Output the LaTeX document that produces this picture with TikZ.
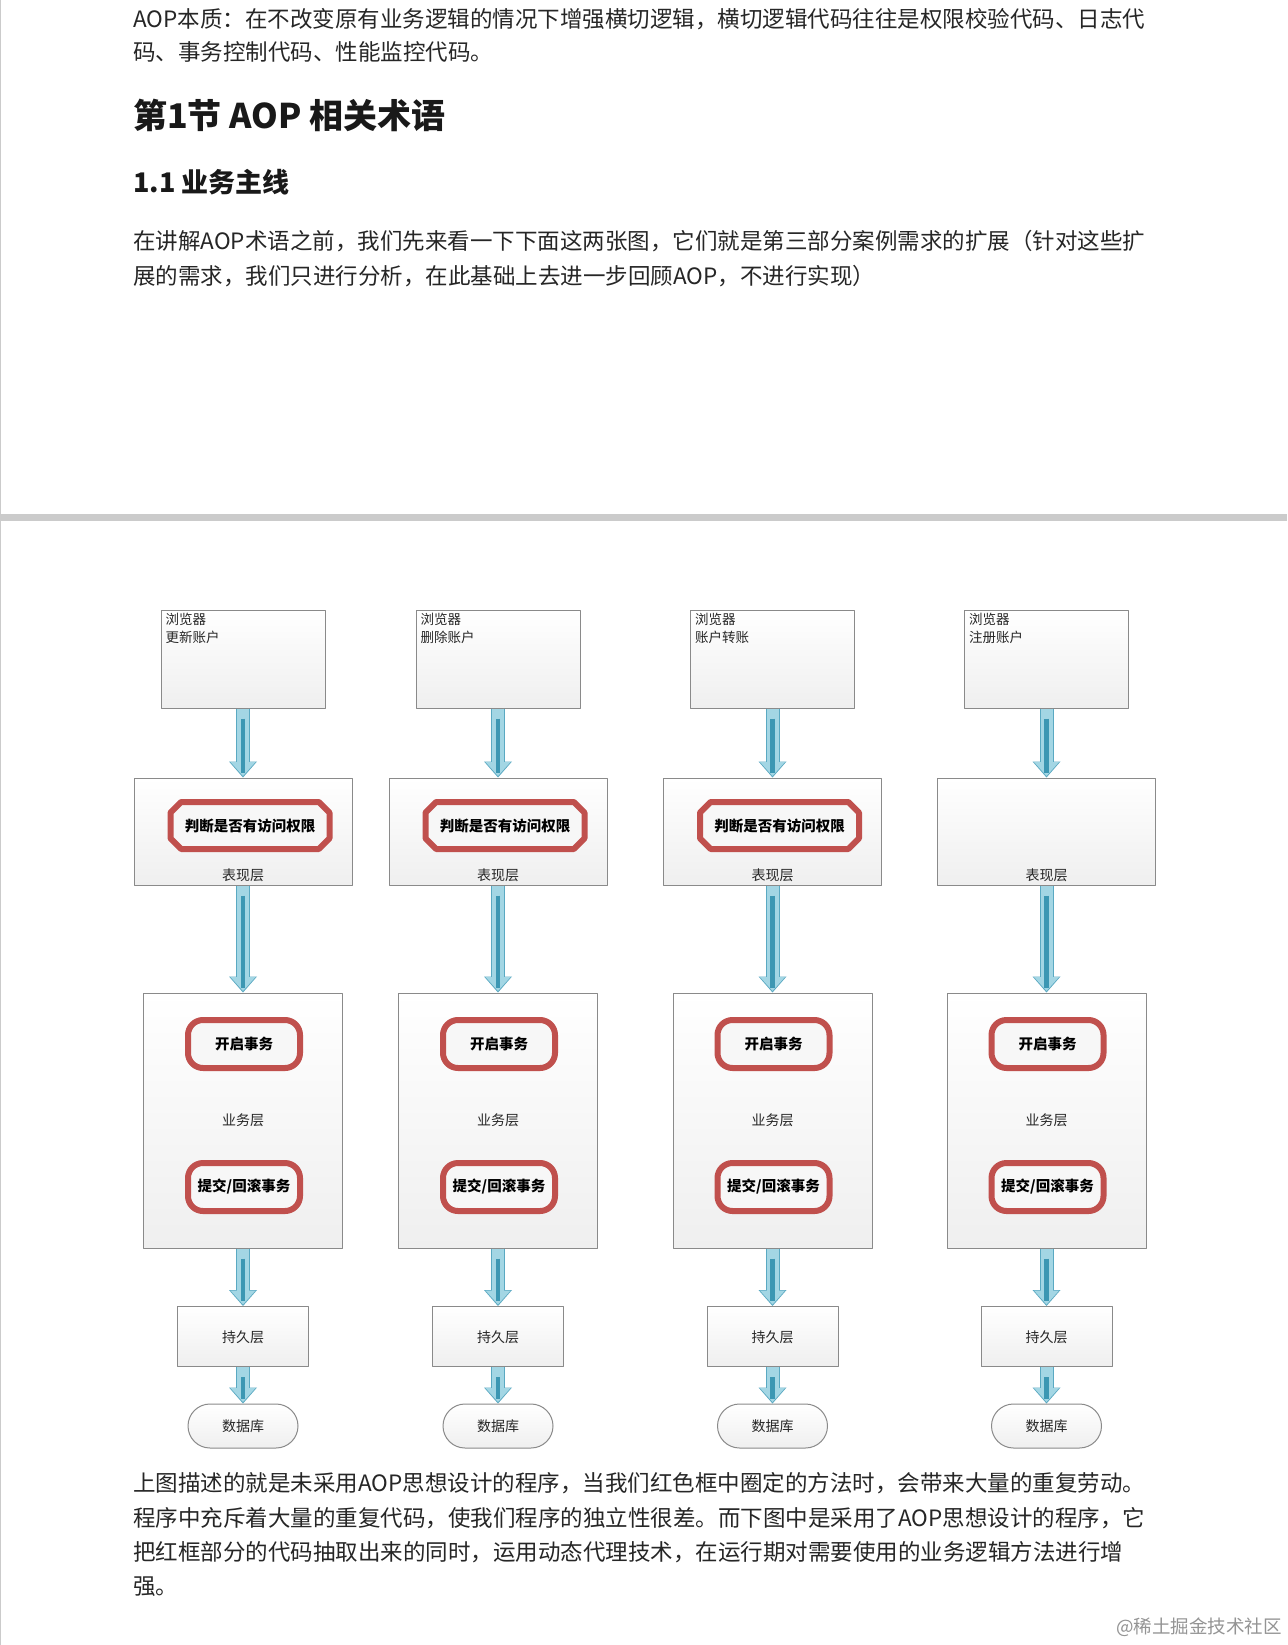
\documentclass[tikz,border=0pt]{standalone}
\usepackage{fontspec}
\setmainfont{Noto Sans CJK SC}
\usetikzlibrary{arrows.meta,shapes.misc,positioning}
\definecolor{boxline}{HTML}{8A8A8A}
\definecolor{boxbot}{HTML}{EFEFEF}
\definecolor{redframe}{HTML}{C0504D}
\definecolor{arrowedge}{HTML}{5AA9C2}
\definecolor{arrowfill}{HTML}{A3D6E4}
\definecolor{arrowbar}{HTML}{3C97B3}
\definecolor{bodytext}{HTML}{262626}
\definecolor{pagegap}{HTML}{CBCBCB}
\tikzset{
  layerbox/.style={draw=boxline, line width=1pt, top color=white, bottom color=boxbot, inner sep=0pt},
  brbox/.style={layerbox, minimum width=164pt, minimum height=98pt},
  prbox/.style={layerbox, minimum width=218pt, minimum height=107pt},
  svbox/.style={layerbox, minimum width=199pt, minimum height=255pt},
  psbox/.style={layerbox, minimum width=131pt, minimum height=60pt},
  dbbox/.style={layerbox, rounded corners=22pt, minimum width=110pt, minimum height=44pt},
  boxnote/.style={inner sep=0pt, align=left, font=\fontsize{13.5}{18}\selectfont, text=black!85},
  layertext/.style={inner sep=0pt, font=\fontsize{14}{16}\selectfont, text=black!85},
  checkframe/.style={chamfered rectangle, chamfered rectangle xsep=15pt, draw=redframe, line width=6pt,
    fill=white!97!black, inner sep=0pt, minimum width=159pt, minimum height=47pt,
    font=\fontsize{14.5}{16}\selectfont\bfseries},
  txframe/.style={draw=redframe, line width=6pt, rounded corners=15pt, fill=white!97!black,
    inner sep=0pt, minimum width=112pt, minimum height=48pt, font=\fontsize{14.5}{16}\selectfont\bfseries},
  flow/.style={draw=arrowedge, line width=14pt, -{Triangle[length=16pt,width=28pt,line width=0pt]},
    postaction={draw=arrowfill, line width=12pt, shorten >=1.5pt, -{Triangle[length=14pt,width=25pt,line width=0pt]}},
    postaction={draw=arrowbar, line width=4.5pt, shorten <=10pt, shorten >=5pt, -}},
  bodyline/.style={anchor=west, inner sep=0pt, font=\fontsize{22.5}{26}\selectfont, text=bodytext}
}
\begin{document}
\begin{tikzpicture}[x=1pt, y=-1pt, line join=round]
  \def\W{1287} \def\H{1645}
  \useasboundingbox (0,0) rectangle (\W,\H);
  \fill[white] (0,0) rectangle (\W,\H);
  \fill[pagegap] (0,514) rectangle (\W,521);
  \draw[pagegap, line width=1pt] (0.5,0) -- (0.5,514) (0.5,521) -- (0.5,\H);

  % text of the page
  \node[bodyline] (intro1) at (133,19) {AOP本质：在不改变原有业务逻辑的情况下增强横切逻辑，横切逻辑代码往往是权限校验代码、日志代};
  \node[bodyline] (intro2) at (133,52) {码、事务控制代码、性能监控代码。};
  \node[bodyline, font=\fontsize{34}{40}\selectfont\bfseries, text=black!90] (sect) at (133,115) {第1节 AOP 相关术语};
  \node[bodyline, font=\fontsize{27}{32}\selectfont\bfseries, text=black!90] (subsect) at (133,182) {1.1 业务主线};
  \node[bodyline] (para1) at (133,241) {在讲解AOP术语之前，我们先来看一下下面这两张图，它们就是第三部分案例需求的扩展（针对这些扩};
  \node[bodyline] (para2) at (133,276) {展的需求，我们只进行分析，在此基础上去进一步回顾AOP，不进行实现）};

  % four call chains
  \foreach \cx/\act/\k in {243/更新账户/1, 498/删除账户/2, 772.5/账户转账/3, 1046.5/注册账户/4} {
    \node[brbox] (br\k) at (\cx,659) {};
    \node[boxnote, anchor=north west] (brtxt\k) at ([shift={(5,3)}]br\k.north west) {浏览器\\\act};
    \node[prbox] (pr\k) at (\cx,831.5) {};
    \node[layertext, above=4pt] (prtxt\k) at (pr\k.south) {表现层};
    \ifnum\k<4
      \node[checkframe] (check\k) at (\cx+7,825.5) {判断是否有访问权限};
    \fi
    \node[svbox] (sv\k) at (\cx,1120.5) {};
    \node[layertext] (svtxt\k) at (\cx,1120) {业务层};
    \node[txframe] (open\k) at (\cx+1,1044) {开启事务};
    \node[txframe] (commit\k) at (\cx+1,1187) {提交/回滚事务};
    \node[psbox] (ps\k) at (\cx,1336.5) {};
    \node[layertext] (pstxt\k) at (\cx,1337) {持久层};
    \node[dbbox] (db\k) at (\cx,1426) {};
    \node[layertext] (dbtxt\k) at (\cx,1426) {数据库};
    \draw[flow] (br\k) -- (pr\k);
    \draw[flow] (pr\k) -- (sv\k);
    \draw[flow] (sv\k) -- (ps\k);
    \draw[flow] (ps\k) -- (db\k);
  }

  \node[bodyline] (after1) at (133,1483) {上图描述的就是未采用AOP思想设计的程序，当我们红色框中圈定的方法时，会带来大量的重复劳动。};
  \node[bodyline] (after2) at (133,1518) {程序中充斥着大量的重复代码，使我们程序的独立性很差。而下图中是采用了AOP思想设计的程序，它};
  \node[bodyline] (after3) at (133,1552) {把红框部分的代码抽取出来的同时，运用动态代理技术，在运行期对需要使用的业务逻辑方法进行增};
  \node[bodyline] (after4) at (133,1587) {强。};
  \node[inner sep=0pt, anchor=east, font=\fontsize{18.5}{20}\selectfont, text=black!42] (mark) at (1282,1627) {@稀土掘金技术社区};
\end{tikzpicture}
\end{document}
